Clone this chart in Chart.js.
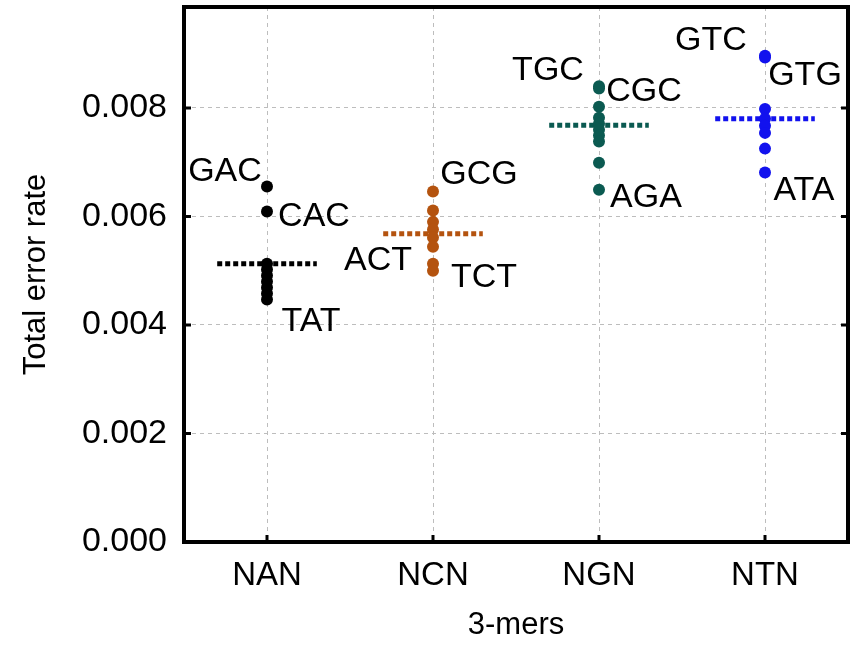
<!DOCTYPE html>
<html>
<head>
<meta charset="utf-8">
<script src="https://cdn.jsdelivr.net/npm/chart.js@4.4.1/dist/chart.umd.min.js"></script>
<style>
  body { margin: 0; background: #fff; }
  #wrap { width: 856px; height: 646px; }
</style>
</head>
<body>
<div id="wrap"><canvas id="errorRates"></canvas></div>
<script>
const categories = ["NAN", "NCN", "NGN", "NTN"];

// total error rate of every 3-mer, grouped by the middle base
const nanRates = [0.00655, 0.00609, 0.00513, 0.00502, 0.00491, 0.00480, 0.00469, 0.00458, 0.00447];
const ncnRates = [0.00646, 0.00611, 0.00590, 0.00576, 0.00561, 0.00544, 0.00513, 0.00500];
const ngnRates = [0.00840, 0.00836, 0.00802, 0.00782, 0.00771, 0.00760, 0.00749, 0.00738, 0.00699, 0.00649];
const ntnRates = [0.00896, 0.00893, 0.00798, 0.00780, 0.00767, 0.00754, 0.00725, 0.00681];
const groupMeans = [0.00513, 0.00568, 0.00768, 0.00780];

const yTicks = [0, 0.002, 0.004, 0.006, 0.008];

// [3-mer name, index of the point it names]
const nanNames = [["GAC", 0], ["CAC", 1], ["TAT", 8]];
const ncnNames = [["GCG", 0], ["ACT", 6], ["TCT", 7]];
const ngnNames = [["TGC", 0], ["CGC", 1], ["AGA", 9]];
const ntnNames = [["GTC", 0], ["GTG", 1], ["ATA", 7]];

const groups = [nanRates, ncnRates, ngnRates, ntnRates];
const names = [nanNames, ncnNames, ngnNames, ntnNames];
const colors = ["#000000", "#b4530f", "#0b5a51", "#1212ee"];

// where each name sits relative to its point, in px
const nameOffsets = {
  GAC: [-42, -15], CAC: [47, 5], TAT: [44, 22],
  GCG: [46, -17], ACT: [-55, -3], TCT: [51, 7],
  TGC: [-51, -16], CGC: [45, 3], AGA: [47, 8],
  GTC: [-54, -15], GTG: [40, 18], ATA: [39, 18]
};

const FONT = "'Liberation Sans', Arial, Helvetica, sans-serif";

const datasets = [];
groups.forEach((rates, i) => {
  datasets.push({
    type: "scatter",
    showLine: true,
    data: [{ x: i + 1 - 0.3, y: groupMeans[i] }, { x: i + 1 + 0.3, y: groupMeans[i] }],
    borderColor: colors[i],
    borderWidth: 5,
    borderDash: [5, 3],
    pointRadius: 0,
    order: 2
  });
});
groups.forEach((rates, i) => {
  datasets.push({
    type: "scatter",
    data: rates.map((v) => ({ x: i + 1, y: v })),
    backgroundColor: colors[i],
    borderColor: colors[i],
    pointRadius: 6,
    pointBorderWidth: 0,
    order: 1
  });
});

const frame = {
  id: "frame",
  afterDraw(chart) {
    const { ctx, chartArea: a, scales } = chart;
    ctx.save();
    ctx.strokeStyle = "#000";
    ctx.lineWidth = 3;
    categories.forEach((c, i) => {
      const x = scales.x.getPixelForValue(i + 1);
      ctx.beginPath();
      ctx.moveTo(x, a.bottom);
      ctx.lineTo(x, a.bottom - 7);
      ctx.stroke();
    });
    yTicks.forEach((v) => {
      const y = scales.y.getPixelForValue(v);
      ctx.beginPath();
      ctx.moveTo(a.left, y);
      ctx.lineTo(a.left + 7, y);
      ctx.moveTo(a.right, y);
      ctx.lineTo(a.right - 7, y);
      ctx.stroke();
    });
    ctx.lineWidth = 4;
    ctx.strokeRect(a.left, a.top, a.right - a.left, a.bottom - a.top);
    ctx.restore();
  }
};

const pointNames = {
  id: "pointNames",
  afterDatasetsDraw(chart) {
    const { ctx, scales } = chart;
    ctx.save();
    ctx.font = "34px " + FONT;
    ctx.fillStyle = "#000";
    ctx.textAlign = "center";
    ctx.textBaseline = "middle";
    names.forEach((list, i) => {
      list.forEach(([name, idx]) => {
        const x = scales.x.getPixelForValue(i + 1);
        const y = scales.y.getPixelForValue(groups[i][idx]);
        const off = nameOffsets[name];
        ctx.fillText(name, x + off[0], y + off[1]);
      });
    });
    ctx.restore();
  }
};

const config = {
  type: "scatter",
  data: { datasets: datasets },
  options: {
    responsive: true,
    maintainAspectRatio: false,
    animation: false,
    layout: { padding: { top: 7, right: 8, left: 0, bottom: 0 } },
    plugins: { legend: { display: false }, tooltip: { enabled: false } },
    scales: {
      x: {
        type: "linear",
        min: 0.5,
        max: 4.5,
        afterBuildTicks: (axis) => { axis.ticks = categories.map((c, i) => ({ value: i + 1 })); },
        afterFit: (axis) => { axis.height = 104; axis.paddingLeft = 0; axis.paddingRight = 0; },
        ticks: {
          callback: (v) => categories[v - 1],
          font: { family: FONT, size: 33 },
          color: "#000",
          padding: 14,
          maxRotation: 0
        },
        grid: { color: "#bdbdbd", lineWidth: 1, drawTicks: false },
        border: { display: false, dash: [4, 4] },
        title: { display: true, text: "3-mers", font: { family: FONT, size: 31 }, color: "#000", padding: 2 }
      },
      y: {
        min: 0,
        max: 0.00986,
        afterBuildTicks: (axis) => { axis.ticks = yTicks.map((v) => ({ value: v })); },
        afterFit: (axis) => { axis.width = 184; axis.paddingTop = 0; axis.paddingBottom = 0; },
        ticks: {
          callback: (v) => v.toFixed(3),
          font: { family: FONT, size: 34 },
          color: "#000",
          padding: 17
        },
        grid: { color: "#bdbdbd", lineWidth: 1, drawTicks: false },
        border: { display: false, dash: [4, 4] },
        title: { display: true, text: "Total error rate", font: { family: FONT, size: 31 }, color: "#000", padding: 18 }
      }
    }
  },
  plugins: [frame, pointNames]
};

const myChart = new Chart(document.getElementById("errorRates"), config);
</script>
</body>
</html>
